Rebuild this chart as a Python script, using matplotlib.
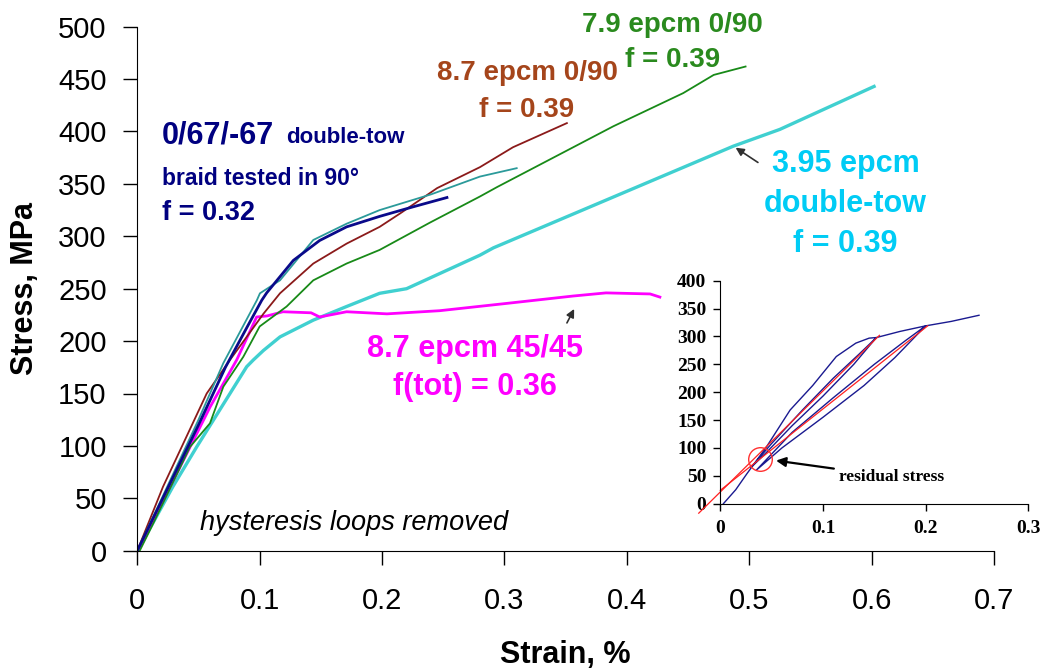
import matplotlib
matplotlib.use("Agg")
import matplotlib.pyplot as plt

plt.rcParams['font.family'] = ['Liberation Sans', 'DejaVu Sans']

# stress-strain curves (strain in %, stress in MPa)
strain_cyan = [0.0, 0.005, 0.029, 0.0485, 0.0894, 0.0948, 0.103, 0.1166, 0.1438, 0.171, 0.198, 0.22, 0.28, 0.291, 0.487, 0.525, 0.602]
stress_cyan = [0, 10, 61, 99, 175.6, 182, 191, 204, 220, 233, 245.6, 250, 282, 289, 386, 402, 443]

strain_magenta = [0.0, 0.02, 0.0594, 0.0812, 0.0975, 0.106, 0.119, 0.142, 0.149, 0.171, 0.204, 0.247, 0.302, 0.356, 0.383, 0.419, 0.427]
stress_magenta = [0, 45, 137, 182, 223, 224, 228, 227, 223, 228, 226, 229, 236, 243, 246, 245, 242]

strain_green = [0.002, 0.013, 0.043, 0.0594, 0.0703, 0.0866, 0.100, 0.122, 0.1438, 0.171, 0.198, 0.239, 0.28, 0.294, 0.389, 0.446, 0.471, 0.497]
stress_green = [0, 26, 99, 121.6, 156.5, 185, 214, 233, 258, 274, 287, 313, 338, 347, 405, 436.6, 454, 462]

strain_brown = [0.0, 0.021, 0.0567, 0.0757, 0.09, 0.103, 0.1166, 0.1438, 0.171, 0.198, 0.215, 0.245, 0.28, 0.307, 0.351]
stress_brown = [0, 61, 150, 182, 205, 226, 245.6, 274, 293, 309, 322, 346, 366, 385, 408]

strain_navy = [0.0, 0.01, 0.03, 0.05, 0.072, 0.09, 0.1017, 0.1057, 0.1275, 0.149, 0.171, 0.198, 0.225, 0.253]
stress_navy = [0, 24, 72, 120, 175, 214, 239, 246, 277, 296, 309, 319, 328, 337]

strain_teal = [0.0, 0.01, 0.03, 0.05, 0.0703, 0.0977, 0.1002, 0.1166, 0.1438, 0.171, 0.198, 0.24, 0.28, 0.31]
stress_teal = [0, 25, 75, 125, 179, 239, 245.6, 258, 296.5, 312, 325, 340, 357, 365]

# inset: loading with two unload/reload loops, plus two fitted lines
inset_strain = [0.003, 0.015, 0.026, 0.045, 0.068, 0.09, 0.113, 0.132, 0.145, 0.152,
                0.13, 0.1, 0.07, 0.045, 0.03,
                0.05, 0.08, 0.11, 0.135, 0.152,
                0.175, 0.2,
                0.17, 0.14, 0.1, 0.06, 0.035,
                0.07, 0.11, 0.15, 0.18, 0.2,
                0.225, 0.252]
inset_stress = [0, 25, 54, 102, 168, 212, 264, 288, 297, 298,
                250, 193, 140, 92, 65,
                108, 168, 225, 268, 298,
                309, 319,
                262, 212, 155, 100, 60,
                128, 190, 250, 292, 319,
                327, 338]
fit1_strain = [-0.021, 0.155]
fit1_stress = [-17, 302]
fit2_strain = [0.0, 0.202]
fit2_stress = [24, 319]
residual_strain = [0.0387]
residual_stress = [80]

x_ticks = [0, 0.1, 0.2, 0.3, 0.4, 0.5, 0.6, 0.7]
x_labels = ['0', '0.1', '0.2', '0.3', '0.4', '0.5', '0.6', '0.7']
y_ticks = list(range(0, 501, 50))
inset_x_ticks = [0, 0.1, 0.2, 0.3]
inset_x_labels = ['0', '0.1', '0.2', '0.3']
inset_y_ticks = list(range(0, 401, 50))

fig = plt.figure(figsize=(10.44, 6.71), dpi=100)
ax = fig.add_axes([137.3 / 1044, 120.3 / 671, 856.7 / 1044, 524 / 671])

ax.plot(strain_cyan, stress_cyan, color='#40D0D0', lw=2.4)
ax.plot(strain_magenta, stress_magenta, color='#FF00FF', lw=2.0)
ax.plot(strain_green, stress_green, color='#188A18', lw=1.3)
ax.plot(strain_brown, stress_brown, color='#8B1A1A', lw=1.3)
ax.plot(strain_teal, stress_teal, color='#2B9A9A', lw=1.3)
ax.plot(strain_navy, stress_navy, color='#0A0A8A', lw=2.0)

ax.set_xlim(0, 0.7)
ax.set_ylim(0, 500)
ax.set_xticks(x_ticks)
ax.set_xticklabels(x_labels)
ax.set_yticks(y_ticks)
ax.spines['top'].set_visible(False)
ax.spines['right'].set_visible(False)
ax.tick_params(axis='both', direction='out', length=10, width=1, labelsize=21)
ax.tick_params(axis='x', pad=16)
ax.tick_params(axis='y', pad=12)

ax.set_xlabel('Strain, %', fontsize=22, fontweight='bold')
ax.xaxis.label.set_va('center')
ax.xaxis.set_label_coords(0.5, -0.2)
ax.set_ylabel('Stress, MPa', fontsize=22, fontweight='bold')
ax.yaxis.label.set_va('center')
ax.yaxis.set_label_coords(-0.131, 0.5)

navy_txt = '#000080'
ax.text(0.0202, 389, '0/67/-67', color=navy_txt, fontsize=22, fontweight='bold', va='baseline')
ax.text(0.1215, 389, 'double-tow', color=navy_txt, fontsize=16, fontweight='bold', va='baseline')
ax.text(0.0202, 349, 'braid tested in 90°', color=navy_txt, fontsize=16.5, fontweight='bold', va='baseline')
ax.text(0.0202, 315.5, 'f = 0.32', color=navy_txt, fontsize=19.5, fontweight='bold', va='baseline')

brown_txt = '#A5451B'
ax.text(0.3184, 449, '8.7 epcm 0/90', color=brown_txt, fontsize=20, fontweight='bold', ha='center', va='baseline')
ax.text(0.3184, 414, 'f = 0.39', color=brown_txt, fontsize=20, fontweight='bold', ha='center', va='baseline')

green_txt = '#2A8A1E'
ax.text(0.4373, 495, '7.9 epcm 0/90', color=green_txt, fontsize=20, fontweight='bold', ha='center', va='baseline')
ax.text(0.4373, 461.5, 'f = 0.39', color=green_txt, fontsize=20, fontweight='bold', ha='center', va='baseline')

cyan_txt = '#00CCF5'
ax.text(0.5788, 361.6, '3.95 epcm', color=cyan_txt, fontsize=22, fontweight='bold', ha='center', va='baseline')
ax.text(0.5788, 323.5, 'double-tow', color=cyan_txt, fontsize=22, fontweight='bold', ha='center', va='baseline')
ax.text(0.5788, 285.3, 'f = 0.39', color=cyan_txt, fontsize=22, fontweight='bold', ha='center', va='baseline')
ax.annotate('', xy=(0.487, 386), xytext=(0.509, 369),
            arrowprops=dict(arrowstyle='-|>', color='#303030', lw=1.2, mutation_scale=12))

ax.text(0.2759, 185.1, '8.7 epcm 45/45', color='#FF00FF', fontsize=22, fontweight='bold', ha='center', va='baseline')
ax.text(0.2759, 148.6, 'f(tot) = 0.36', color='#FF00FF', fontsize=22, fontweight='bold', ha='center', va='baseline')
ax.annotate('', xy=(0.358, 233), xytext=(0.35, 215),
            arrowprops=dict(arrowstyle='-|>', color='#303030', lw=1.2, mutation_scale=12))

ax.text(0.0513, 19.7, 'hysteresis loops removed', fontsize=19.5, style='italic', va='baseline')

# inset with the hysteresis loops
ins = fig.add_axes([720.3 / 1044, 167.3 / 671, 308 / 1044, 223 / 671])
ins.plot(inset_strain, inset_stress, color='#1A1A90', lw=1.0)
ins.plot(fit1_strain, fit1_stress, color='#FF2020', lw=0.9, clip_on=False)
ins.plot(fit2_strain, fit2_stress, color='#FF2020', lw=0.9, clip_on=False)
ins.plot(residual_strain, residual_stress, 'o', ms=17, mfc='none', mec='#FF3030', mew=1.0)
ins.annotate('residual stress', xy=(0.0516, 78), xytext=(0.116, 48.5),
             fontsize=12.5, fontweight='bold', family=['Liberation Serif', 'DejaVu Serif'],
             va='center', ha='left',
             arrowprops=dict(arrowstyle='-|>', color='black', lw=1.6, mutation_scale=14))
ins.set_xlim(0, 0.3)
ins.set_ylim(0, 400)
ins.set_xticks(inset_x_ticks)
ins.set_xticklabels(inset_x_labels)
ins.set_yticks(inset_y_ticks)
ins.spines['top'].set_visible(False)
ins.spines['right'].set_visible(False)
ins.tick_params(axis='both', direction='out', length=5, width=1, labelsize=14, pad=5)
ins.tick_params(axis='x', pad=7)
for lab in ins.get_xticklabels() + ins.get_yticklabels():
    lab.set_family(['Liberation Serif', 'DejaVu Serif'])
    lab.set_fontweight('bold')

fig.savefig('out.png', dpi=100)
